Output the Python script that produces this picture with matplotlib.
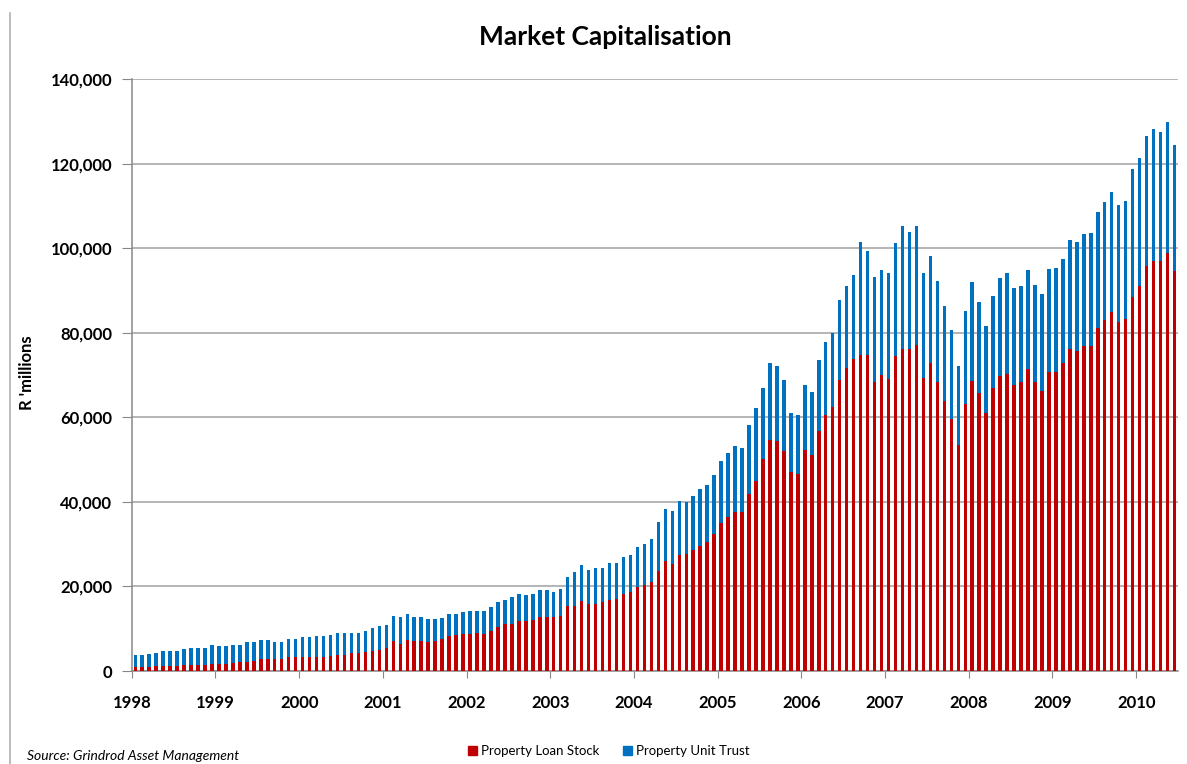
import matplotlib
matplotlib.use("Agg")
from matplotlib import pyplot as plt
from matplotlib.lines import Line2D
from matplotlib.patches import Patch
from matplotlib.ticker import FuncFormatter
import numpy as np

# monthly values, Jan 1998 - Jun 2010 (R millions)
years = [str(y) for y in range(1998, 2011)]

loan_stock = [
    950, 950, 950, 1270, 1270, 1190, 1270, 1510, 1510, 1510, 1510, 1750,
    1750, 1750, 1830, 2060, 2220, 2300, 2780, 2780, 2780, 2780, 3250, 3250,
    3250, 3250, 3410, 3410, 3570, 3810, 3810, 4210, 4210, 4600, 4840, 5080,
    5400, 7060, 6500, 7450, 7000, 7210, 6810, 7050, 7520, 8320, 8630, 8710,
    8870, 9030, 8870, 9350, 10450, 11090, 11170, 11880, 11800, 12040, 12830, 12750,
    12670, 13070, 15440, 15440, 16630, 15840, 15920, 16320, 16790, 16950, 18140, 18610,
    19880, 20350, 20990, 23760, 26060, 25420, 27320, 27600, 28730, 29680, 30530, 32510,
    35030, 36530, 37640, 37710, 41820, 44890, 50020, 54520, 54280, 52070, 47180, 46630,
    52230, 51130, 56810, 60600, 62490, 68720, 71760, 73690, 74830, 74680, 68330, 69900,
    68960, 74480, 76060, 76060, 77200, 69350, 72750, 68410, 63910, 59570, 53420, 63120,
    68640, 65650, 61070, 66910, 69650, 70180, 67700, 68410, 71400, 68250, 66120, 70610,
    70610, 72740, 76220, 75590, 76930, 76850, 81180, 82920, 84970, 82450, 83160, 88360,
    91130, 95860, 96890, 96890, 98780, 94520,
]

unit_trust = [
    2780, 2940, 3100, 3020, 3490, 3490, 3410, 3730, 4050, 3970, 3970, 4360,
    4120, 4120, 4280, 4130, 4530, 4680, 4520, 4440, 4200, 3970, 4290, 4370,
    4690, 4690, 4920, 4840, 5000, 5080, 5160, 4760, 4840, 4920, 5320, 5550,
    5470, 6040, 6300, 5990, 5690, 5620, 5470, 5230, 4910, 5070, 4910, 5230,
    5390, 5070, 5390, 5700, 5790, 5700, 6410, 6340, 6100, 6100, 6260, 6420,
    5940, 6260, 6820, 8000, 8480, 8160, 8390, 8150, 8870, 8630, 8870, 8870,
    9350, 9670, 10290, 11410, 12270, 12360, 12830, 12480, 12770, 13400, 13500, 13960,
    14600, 14910, 15460, 14920, 16330, 17360, 16970, 18230, 17870, 16850, 13890, 13810,
    15310, 14910, 16720, 17150, 17510, 18930, 19370, 19960, 26630, 24650, 24850, 24930,
    25080, 26670, 29270, 27850, 28130, 24690, 25480, 23820, 22480, 20980, 18770, 22090,
    23270, 21690, 20430, 21690, 23290, 23860, 22870, 22640, 23430, 23030, 22950, 24380,
    24700, 24620, 25710, 25790, 26430, 26660, 27300, 28090, 28410, 27770, 27930, 30300,
    30210, 30610, 31400, 30530, 31010, 29980,
]

red = "#C00000"
blue = "#0070C0"
grid_col = "#a0a0a0"

plt.rcParams["font.family"] = ["Lato", "DejaVu Sans"]

fig = plt.figure(figsize=(11.87, 7.64), dpi=100)
ax = fig.add_axes([0.111, 0.1217, 0.8814, 0.7749])

x = np.arange(len(loan_stock))
ax.bar(x, loan_stock, width=0.5, color=red, linewidth=0, zorder=3)
ax.bar(x, unit_trust, width=0.5, bottom=loan_stock, color=blue, linewidth=0, zorder=3)

ax.set_xlim(-0.5, len(loan_stock) - 0.5)
ax.set_ylim(0, 140000)
ax.set_yticks(np.arange(0, 140001, 20000))
ax.yaxis.set_major_formatter(FuncFormatter(lambda v, p: f"{int(v):,}"))
ax.grid(axis="y", color=grid_col, linewidth=1.1, zorder=0)

ax.set_xticks(np.arange(len(years)) * 12 - 0.5)
ax.set_xticklabels(years)

for s in ["top", "right"]:
    ax.spines[s].set_visible(False)
for s in ["left", "bottom"]:
    ax.spines[s].set_color("#888888")
    ax.spines[s].set_linewidth(1.1)

ax.tick_params(axis="y", length=7, color="#888888", pad=7, labelsize=12)
ax.tick_params(axis="x", length=5, color="#888888", pad=12, labelsize=12)
for lab in ax.get_xticklabels() + ax.get_yticklabels():
    lab.set_fontweight("bold")

fig.text(27 / 1187, 1 - 373 / 764, "R 'millions", rotation=90, ha="center",
         va="center", fontsize=12, fontweight="bold")

fig.text(0.51, 0.951, "Market Capitalisation", ha="center", va="center",
         fontsize=19, fontweight="bold")

fig.text(0.023, 0.003, "Source: Grindrod Asset Management", fontsize=10,
         style="italic", ha="left", va="bottom")

handles = [Patch(color=red, label="Property Loan Stock"),
           Patch(color=blue, label="Property Unit Trust")]
fig.legend(handles=handles, loc="center", bbox_to_anchor=(0.513, 0.017), ncol=2,
           frameon=False, fontsize=9.5, handlelength=0.7, handleheight=0.7,
           handletextpad=0.3, columnspacing=1.8)

# left border line of the original chart frame
fig.add_artist(Line2D([10 / 1187, 10 / 1187], [0, 1 - 13 / 764],
                      transform=fig.transFigure, color="#b0b0b0", linewidth=1.2))

fig.savefig("out.png", dpi=100)
